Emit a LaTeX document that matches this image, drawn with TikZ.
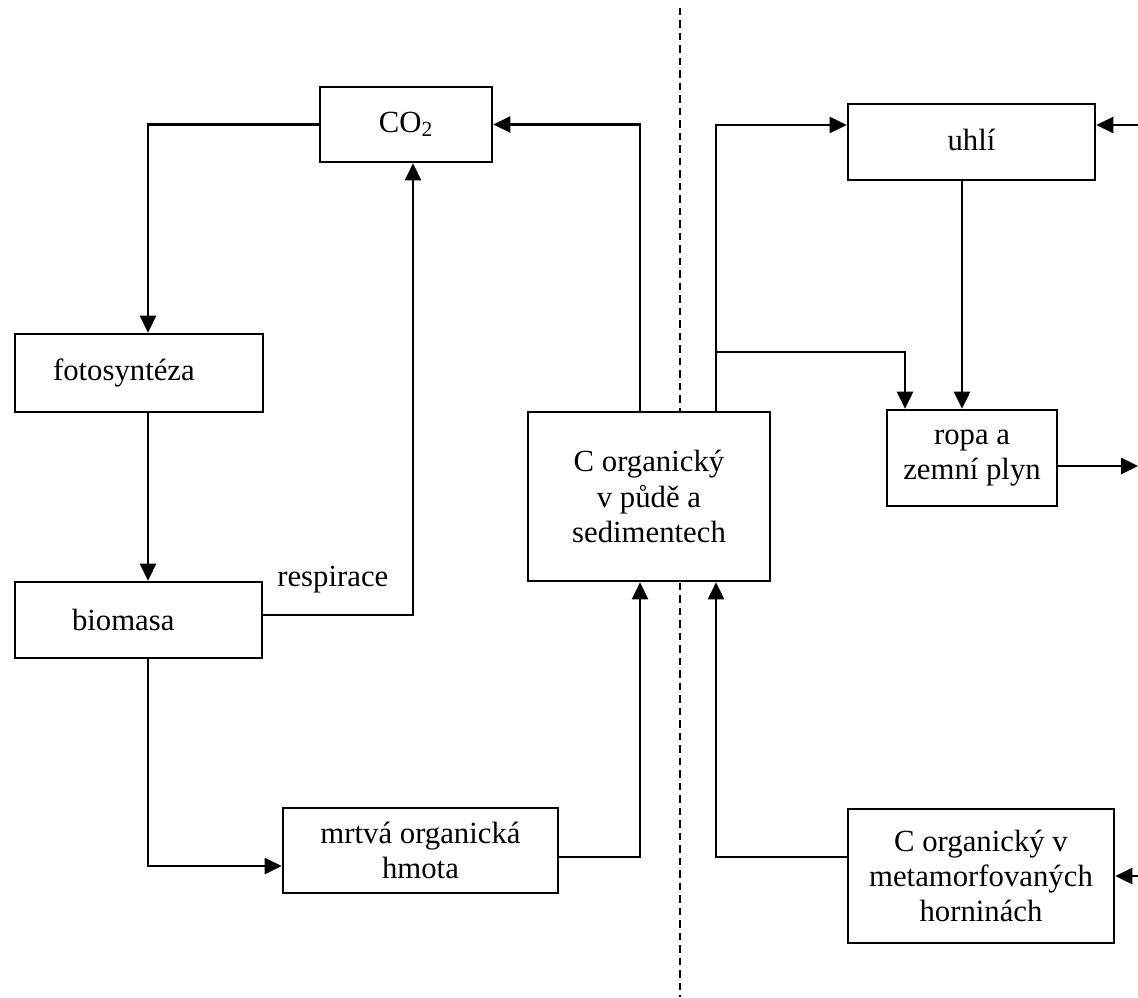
\documentclass[tikz,border=0pt]{standalone}
\usepackage{fontspec}
\setmainfont{Liberation Serif}
\usetikzlibrary{arrows.meta}
\begin{document}
\begin{tikzpicture}[x=0.02cm,y=-0.02cm,
  every node/.style={font=\fontsize{17.5}{20}\selectfont},
  box/.style={draw,fill=white,line width=1.5pt,inner sep=0pt,align=center},
  arr/.style={line width=1.5pt,-{Triangle[length=0.34cm,width=0.32cm]}},
  divider/.style={line width=1pt,dash pattern=on 0.15cm off 0.1cm}]
\useasboundingbox (0,0) rectangle (1138,997);

% boundary between the two cycles, drawn first so the boxes cover it
\coordinate (dtop) at (680,8);
\coordinate (dbot) at (680,997);
\draw[divider] (dtop) -- (dbot);

% carbon pools and processes
\node[box,minimum width=3.44cm,minimum height=1.5cm] (co2) at (406,124.5) {CO\textsubscript{2}};
\node[box,minimum width=4.96cm,minimum height=1.56cm,text width=3.44cm,align=left] (foto) at (139,373) {fotosyntéza};
\node[box,minimum width=4.94cm,minimum height=1.52cm,text width=2.66cm,align=left] (bio) at (138.5,620) {biomasa};
\node[box,minimum width=5.5cm,minimum height=1.7cm] (mrtva) at (420.5,850.5) {mrtvá organická\\hmota};
\node[box,minimum width=4.84cm,minimum height=3.38cm] (corg) at (649,496.5) {C organický\\v půdě a\\sedimentech};
\node[box,minimum width=4.94cm,minimum height=1.52cm] (uhli) at (971.5,142) {\raisebox{0.1cm}{uhlí}};
\node[box,minimum width=3.4cm,minimum height=1.92cm] (ropa) at (972,458) {ropa a\\zemní plyn};
\node[box,minimum width=5.32cm,minimum height=2.68cm] (meta) at (981,876) {C organický v\\metamorfovaných\\horninách};

% routing columns and free ends at the right margin
\coordinate (lx) at (148,0);
\coordinate (rx) at (413,0);
\coordinate (ax) at (640,0);
\coordinate (bx) at (716,0);
\coordinate (jn) at (716,352);
\coordinate (px) at (905,0);
\coordinate (ux) at (962,0);
\coordinate (inU) at (1138,125);
\coordinate (outR) at (1138,466);
\coordinate (inM) at (1138,876);

% biological cycle
\draw[arr] (co2.west) -| (lx |- foto.north);
\draw[arr] (lx |- foto.south) -- (lx |- bio.north);
\draw[arr] (bio.east |- 0,615) -| (rx |- co2.south);
\node[anchor=south west,inner sep=0pt] (resp) at (277,593) {respirace};
\draw[arr] (lx |- bio.south) |- (mrtva.west |- 0,866);
\draw[arr] (mrtva.east |- 0,857) -| (ax |- corg.south);
\draw[arr] (ax |- corg.north) |- (co2.east);

% geological cycle
\draw[arr] (bx |- corg.north) |- (uhli.west |- 0,125);
\draw[arr] (jn) -| (px |- ropa.north);
\draw[arr] (ux |- uhli.south) -- (ux |- ropa.north);
\draw[arr] (ropa.east |- outR) -- (outR);
\draw[arr] (inU) -- (uhli.east |- inU);
\draw[arr] (inM) -- (meta.east);
\draw[arr] (meta.west |- 0,857) -| (bx |- corg.south);
\end{tikzpicture}
\end{document}
